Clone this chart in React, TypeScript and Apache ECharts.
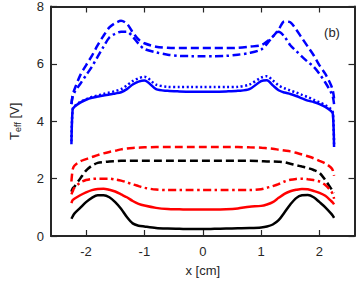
import React, { useEffect, useRef } from "react";
import * as echarts from "echarts";

const X = [-2.25, -2.23, -2.2, -2.1, -2.0, -1.9, -1.8, -1.7, -1.6, -1.5, -1.4, -1.3, -1.2, -1.1, -1.0, -0.8, -0.6, -0.4, -0.2, 0, 0.2, 0.4, 0.6, 0.8, 1.0, 1.1, 1.2, 1.3, 1.4, 1.5, 1.6, 1.7, 1.8, 1.9, 2.0, 2.1, 2.2, 2.23, 2.25];

const blueDashed = [4.6, 4.9, 5.1, 5.6, 5.95, 6.28, 6.65, 6.98, 7.27, 7.42, 7.5, 7.4, 7.1, 6.85, 6.72, 6.6, 6.56, 6.55, 6.55, 6.55, 6.55, 6.55, 6.56, 6.6, 6.65, 6.78, 6.95, 7.2, 7.48, 7.45, 7.2, 6.9, 6.6, 6.3, 5.95, 5.65, 5.25, 5.05, 4.8];
const blueDashDot = [4.6, 4.85, 5.0, 5.3, 5.6, 5.9, 6.25, 6.6, 6.92, 7.05, 7.12, 7.12, 6.95, 6.7, 6.52, 6.4, 6.32, 6.28, 6.27, 6.27, 6.27, 6.28, 6.32, 6.38, 6.5, 6.7, 6.95, 7.12, 6.95, 6.65, 6.45, 6.25, 6.07, 5.9, 5.65, 5.35, 5.0, 4.85, 4.6];
const blueDotted = [3.3, 4.42, 4.52, 4.67, 4.77, 4.85, 4.9, 4.95, 5.0, 5.05, 5.12, 5.25, 5.4, 5.5, 5.55, 5.28, 5.2, 5.19, 5.19, 5.19, 5.19, 5.19, 5.2, 5.28, 5.52, 5.57, 5.42, 5.25, 5.15, 5.07, 5.0, 4.92, 4.84, 4.75, 4.66, 4.56, 4.42, 4.3, 3.2];
const blueSolid = [3.2, 4.4, 4.5, 4.65, 4.75, 4.82, 4.86, 4.9, 4.93, 4.97, 5.01, 5.12, 5.28, 5.38, 5.42, 5.12, 5.06, 5.04, 5.03, 5.03, 5.03, 5.04, 5.06, 5.12, 5.4, 5.43, 5.25, 5.08, 5.0, 4.95, 4.88, 4.8, 4.72, 4.67, 4.6, 4.5, 4.35, 4.25, 3.1];
const redDashed = [1.9, 2.3, 2.45, 2.6, 2.68, 2.75, 2.82, 2.88, 2.93, 2.97, 3.02, 3.05, 3.07, 3.08, 3.09, 3.1, 3.1, 3.1, 3.1, 3.1, 3.1, 3.1, 3.1, 3.09, 3.08, 3.06, 3.04, 3.01, 2.98, 2.95, 2.9, 2.84, 2.78, 2.71, 2.62, 2.53, 2.38, 2.28, 2.1];
const blackDashed = [1.55, 1.65, 1.72, 2.0, 2.28, 2.45, 2.55, 2.58, 2.6, 2.61, 2.62, 2.62, 2.62, 2.62, 2.62, 2.62, 2.62, 2.62, 2.62, 2.62, 2.62, 2.62, 2.62, 2.62, 2.61, 2.6, 2.6, 2.59, 2.57, 2.52, 2.47, 2.42, 2.37, 2.3, 2.2, 1.95, 1.65, 1.55, 1.5];
const redDashDot = [1.45, 1.55, 1.68, 1.86, 1.95, 1.99, 2.0, 2.0, 2.0, 1.97, 1.93, 1.87, 1.8, 1.74, 1.68, 1.62, 1.6, 1.6, 1.6, 1.6, 1.6, 1.6, 1.6, 1.6, 1.63, 1.68, 1.74, 1.81, 1.9, 1.96, 1.99, 2.0, 1.98, 1.95, 1.9, 1.78, 1.56, 1.45, 1.3];
const redSolid = [1.15, 1.25, 1.3, 1.42, 1.52, 1.6, 1.64, 1.65, 1.61, 1.55, 1.45, 1.35, 1.22, 1.12, 1.06, 0.98, 0.94, 0.93, 0.92, 0.92, 0.92, 0.93, 0.96, 1.02, 1.05, 1.1, 1.18, 1.33, 1.47, 1.56, 1.61, 1.64, 1.63, 1.57, 1.5, 1.4, 1.22, 1.16, 1.1];
const blackSolid = [0.6, 0.68, 0.78, 0.98, 1.18, 1.33, 1.42, 1.42, 1.35, 1.18, 0.95, 0.66, 0.44, 0.36, 0.33, 0.28, 0.26, 0.25, 0.24, 0.24, 0.25, 0.26, 0.27, 0.28, 0.3, 0.33, 0.4, 0.55, 0.82, 1.1, 1.32, 1.42, 1.43, 1.35, 1.18, 1.0, 0.78, 0.7, 0.63];

const xTicks = [-2, -1, 0, 1, 2];

const DASH = [8, 4];
const DASHDOT = [8, 3.5, 2.5, 3.5];
const DOT = [2, 2.5];

const seriesDefs: [number[], string, any][] = [
  [blueDashed, "#0000ff", DASH],
  [blueDashDot, "#0000ff", DASHDOT],
  [blueDotted, "#0000ff", DOT],
  [blueSolid, "#0000ff", "solid"],
  [redDashed, "#ff0000", DASH],
  [blackDashed, "#000000", DASH],
  [redDashDot, "#ff0000", DASHDOT],
  [redSolid, "#ff0000", "solid"],
  [blackSolid, "#000000", "solid"],
];

const AX = "#262626";
const FONT = "Liberation Sans, Arial, sans-serif";

export default function App() {
  const ref = useRef<HTMLDivElement>(null);
  useEffect(() => {
    document.body.style.margin = "0";
    const chart = echarts.init(ref.current!, null, { renderer: "svg" });
    const xCommon = {
      type: "value",
      min: -2.6,
      max: 2.6,
      axisLine: { show: true, onZero: false, lineStyle: { color: AX, width: 2 } },
      axisTick: { show: true, inside: true, length: 6, customValues: xTicks, lineStyle: { color: AX, width: 1.2 } },
      splitLine: { show: false },
    };
    const yCommon = {
      type: "value",
      min: 0,
      max: 8,
      interval: 2,
      axisLine: { show: true, onZero: false, lineStyle: { color: AX, width: 2 } },
      axisTick: { show: true, inside: true, length: 6, lineStyle: { color: AX, width: 1.2 } },
      splitLine: { show: false },
    };
    chart.setOption({
      animation: false,
      grid: { left: 39.5, right: 2.5, top: 6, bottom: 42, containLabel: false },
      xAxis: [
        {
          ...xCommon,
          position: "bottom",
          axisLabel: { customValues: xTicks, color: AX, fontSize: 13, fontFamily: FONT, margin: 9 },
          name: "x [cm]",
          nameLocation: "middle",
          nameGap: 28,
          nameTextStyle: { color: AX, fontSize: 13, fontFamily: FONT },
        },
        { ...xCommon, position: "top", axisLabel: { show: false } },
      ],
      yAxis: [
        {
          ...yCommon,
          position: "left",
          axisLabel: { color: AX, fontSize: 13, fontFamily: FONT, margin: 7 },
          name: "{t|T}{s|eff}{t| [V]}",
          nameLocation: "middle",
          nameGap: 29,
          nameTextStyle: {
            color: AX,
            fontFamily: FONT,
            rich: {
              t: { fontSize: 13, color: AX, fontFamily: FONT },
              s: { fontSize: 9, color: AX, fontFamily: FONT, verticalAlign: "bottom", padding: [6, 0, 0, 0] },
            },
          },
        },
        { ...yCommon, position: "right", axisLabel: { show: false } },
      ],
      graphic: [
        {
          type: "text",
          x: 332,
          y: 32,
          style: { text: "(b)", fontSize: 13, fontFamily: FONT, fill: AX, align: "center", verticalAlign: "middle" },
        },
      ],
      series: seriesDefs.map(([ys, color, type]) => ({
        type: "line",
        data: X.map((x, i) => [x, ys[i]]),
        showSymbol: false,
        smooth: 0.3,
        lineStyle: { color, width: 2.5, type },
        z: 3,
      })),
    });
    return () => chart.dispose();
  }, []);
  return <div ref={ref} style={{ width: 357, height: 282 }} />;
}
